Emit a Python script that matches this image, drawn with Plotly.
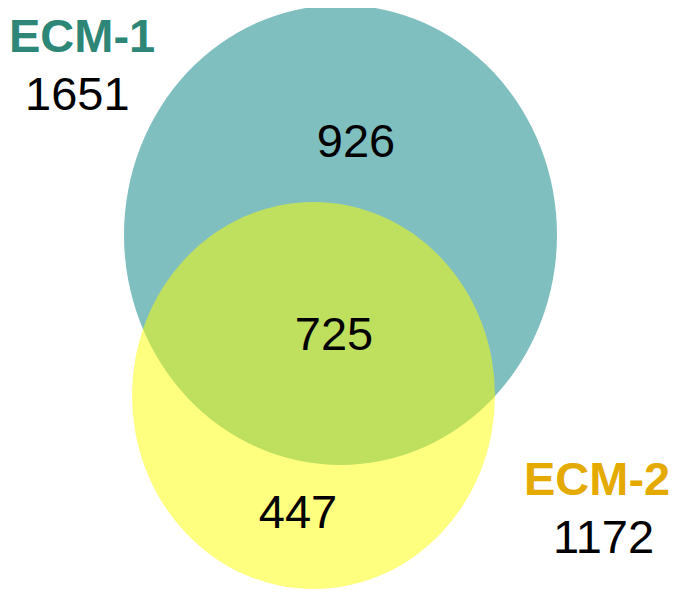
import plotly.graph_objects as go

# Data
set_names = ["ECM-1", "ECM-2"]
set_totals = [1651, 1172]
region_labels = ["ECM-1 only", "Both", "ECM-2 only"]
region_counts = [926, 725, 447]

W, H = 687, 592
fig = go.Figure()

# Ellipses (teal first, yellow on top, both semi-transparent)
fig.add_shape(type="circle", xref="x", yref="y", x0=124, x1=557, y0=5, y1=465,
              fillcolor="rgb(0,128,128)", opacity=0.5, line=dict(width=0), layer="below")
fig.add_shape(type="circle", xref="x", yref="y", x0=132, x1=495, y0=202, y1=589,
              fillcolor="rgb(255,255,0)", opacity=0.5, line=dict(width=0), layer="below")

font = "Liberation Sans, Arial, sans-serif"

# Region counts
fig.add_trace(go.Scatter(
    x=[356, 334, 298], y=[145, 338, 516],
    text=[str(v) for v in region_counts], mode="text",
    textfont=dict(family=font, size=47, color="black"),
    hoverinfo="skip", showlegend=False))

# Set labels and totals
label_colors = ["#2E8677", "#E5AA00"]
label_pos = [(82, 35), (597, 478)]
total_pos = [(77, 93), (603, 536)]
for name, tot, col, lp, tp in zip(set_names, set_totals, label_colors, label_pos, total_pos):
    fig.add_annotation(x=lp[0], y=lp[1], text=f"<b>{name}</b>", showarrow=False,
                       font=dict(family=font, size=47, color=col),
                       xanchor="center", yanchor="middle")
    fig.add_annotation(x=tp[0], y=tp[1], text=str(tot), showarrow=False,
                       font=dict(family=font, size=47, color="black"),
                       xanchor="center", yanchor="middle")

# the page places the figure with an 8px body margin; offset the ranges to compensate
off = 8
fig.update_layout(
    width=W, height=H, margin=dict(l=0, r=0, t=0, b=0),
    paper_bgcolor="white", plot_bgcolor="white",
    xaxis=dict(range=[off, W + off], visible=False, fixedrange=True),
    yaxis=dict(range=[H + off, off], visible=False, fixedrange=True),
)
fig.write_html("out.html")
